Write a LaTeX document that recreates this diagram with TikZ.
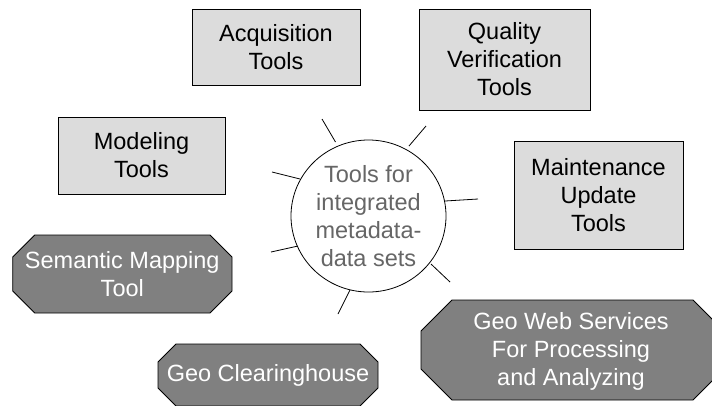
\documentclass[tikz,border=0pt]{standalone}
\usepackage{fontspec}
\setmainfont{Liberation Sans}
\usetikzlibrary{shapes.geometric}
\definecolor{boxfill}{HTML}{DCDCDC}
\definecolor{octfill}{HTML}{808080}
\definecolor{ctext}{HTML}{666666}
\newcommand{\octapath}[5]{%
  \path[octstyle] (#1+#5,-#2) -- (#3-#5,-#2) -- (#3,-#2-#5) -- (#3,-#4+#5) -- (#3-#5,-#4) -- (#1+#5,-#4) -- (#1,-#4+#5) -- (#1,-#2-#5) -- cycle;}
\tikzset{
  x=1bp, y=1bp,
  every node/.style={font=\fontsize{23.5bp}{28bp}\selectfont, align=center, inner sep=0pt},
  toolbox/.style={draw=black, line width=0.9bp, fill=boxfill, rectangle},
  octstyle/.style={draw=black, line width=0.9bp, fill=octfill},
  octtext/.style={text=white},
  hub/.style={draw=black, line width=0.8bp, ellipse, fill=white, text=ctext},
  spoke/.style={draw=black, line width=0.8bp}
}
\begin{document}
\begin{tikzpicture}
\useasboundingbox (0,0) rectangle (712,-405);
% gray rectangles
\node[toolbox, minimum width=168bp, minimum height=76.5bp] (acq) at (276,-47.5) {Acquisition\\Tools};
\node[toolbox, minimum width=171bp, minimum height=101bp] (qual) at (504.5,-59.5) {Quality\\Verification\\Tools};
\node[toolbox, minimum width=167bp, minimum height=77bp] (mod) at (141.5,-155.5) {Modeling\\Tools};
\node[toolbox, minimum width=169bp, minimum height=108bp] (maint) at (598.5,-195) {Maintenance\\Update\\Tools};
% hub
\node[hub, minimum width=155bp, minimum height=152bp] (hubn) at (368.5,-216) {Tools for\\integrated\\metadata-\\data sets};
% spokes
\coordinate (s1a) at (322,-119); \coordinate (s1b) at (335.5,-142);
\coordinate (s2a) at (426,-126); \coordinate (s2b) at (409,-146);
\coordinate (s3a) at (272,-172); \coordinate (s3b) at (300,-179);
\coordinate (s4a) at (478,-199); \coordinate (s4b) at (445,-201);
\coordinate (s5a) at (271,-252); \coordinate (s5b) at (298,-246);
\coordinate (s6a) at (450,-282); \coordinate (s6b) at (431,-264);
\coordinate (s7a) at (338,-314); \coordinate (s7b) at (350,-290);
\foreach \i in {1,...,7} {\draw[spoke] (s\i a) -- (s\i b);}
% dark octagons
\octapath{12.7}{235}{232}{313}{22}
\node[octtext] (sem) at (122.3,-274) {Semantic Mapping\\Tool};
\octapath{158}{344}{378}{406}{18}
\node[octtext] (clear) at (268,-375) {Geo Clearinghouse};
\octapath{421}{300}{724}{400}{31}
\node[octtext] (web) at (571,-351) {Geo Web Services\\For Processing\\ and Analyzing};
\end{tikzpicture}
\end{document}
